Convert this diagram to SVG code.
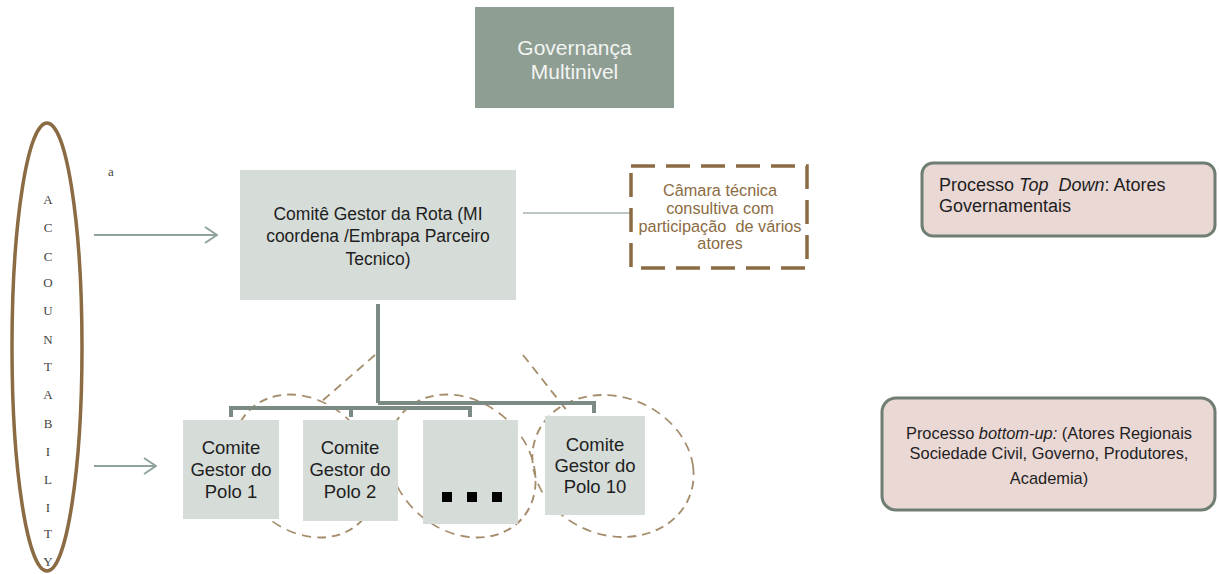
<svg xmlns="http://www.w3.org/2000/svg" width="1219" height="574" viewBox="0 0 1219 574">
<defs>
<style>
.sans{font-family:"Liberation Sans",Arial,sans-serif}
.serif{font-family:"Liberation Serif","Times New Roman",serif}
.gbox{fill:#d6dcd8}
.ptxt{font-family:"Liberation Sans",Arial,sans-serif;font-size:18.5px;fill:#1e1e1e;text-anchor:middle}
.letter{font-family:"Liberation Serif","Times New Roman",serif;font-size:13px;fill:#444;text-anchor:middle}
.dashell{fill:none;stroke:#a58d6c;stroke-width:1.8;stroke-dasharray:9 6}
.tree{fill:none;stroke:#7b8a83;stroke-width:4}
.arrow{fill:none;stroke:#8fa39a;stroke-width:2}
.proc{fill:#ead8d5;stroke:#6f7d73;stroke-width:3}
</style>
<marker id="chev" viewBox="0 0 14 18" refX="13" refY="9" markerWidth="14" markerHeight="18" markerUnits="userSpaceOnUse" orient="auto">
<path d="M1,1 L13,9 L1,17" fill="none" stroke="#8fa39a" stroke-width="2"/>
</marker>
</defs>
<rect width="1219" height="574" fill="#ffffff"/>

<g id="governanca">
<rect x="475" y="7" width="199" height="101" fill="#8f9e93"/>
<text class="sans" x="574.5" y="55" font-size="21" fill="#f2f4f1" text-anchor="middle">Governança</text>
<text class="sans" x="574.5" y="79" font-size="21" fill="#f2f4f1" text-anchor="middle">Multinivel</text>
</g>

<g id="accountability">
<ellipse cx="47" cy="347" rx="35" ry="224" fill="none" stroke="#8b6b43" stroke-width="3.5"/>
<text class="letter" x="48" y="204">A</text>
<text class="letter" x="48" y="232">C</text>
<text class="letter" x="48" y="261">C</text>
<text class="letter" x="48" y="287">O</text>
<text class="letter" x="48" y="315">U</text>
<text class="letter" x="48" y="344">N</text>
<text class="letter" x="48" y="371">T</text>
<text class="letter" x="48" y="399">A</text>
<text class="letter" x="48" y="428">B</text>
<text class="letter" x="48" y="456">I</text>
<text class="letter" x="48" y="484">L</text>
<text class="letter" x="48" y="512">I</text>
<text class="letter" x="48" y="538">T</text>
<text class="letter" x="48" y="566">Y</text>
</g>

<g id="label-a">
<text class="serif" x="111" y="176" font-size="13" fill="#444" text-anchor="middle">a</text>
</g>

<g id="dashed-shapes">
<ellipse class="dashell" transform="translate(305 466) skewX(12)" rx="70" ry="71.5"/>
<ellipse class="dashell" transform="translate(462 466) skewX(12)" rx="72" ry="71.5"/>
<ellipse class="dashell" transform="translate(613 466) skewX(8)" rx="80" ry="71"/>
<line class="dashell" x1="375" y1="355" x2="321" y2="402"/>
<line class="dashell" x1="523" y1="355" x2="568" y2="412"/>
</g>

<g id="connectors">
<line class="arrow" x1="94" y1="235" x2="217" y2="235" marker-end="url(#chev)"/>
<line class="arrow" x1="94" y1="466" x2="156" y2="466" marker-end="url(#chev)"/>
<line x1="523" y1="213" x2="630" y2="213" stroke="#a5b4b0" stroke-width="1.5"/>
<path class="tree" d="M378,304 V403 M378,403 H594 V413 M231,417 V408 H470 V417 M351,408 V417"/>
</g>

<g id="comite-gestor">
<rect class="gbox" x="240" y="170" width="276" height="130"/>
<text class="sans" x="378" y="220" font-size="17.5" fill="#1e1e1e" text-anchor="middle">Comitê Gestor da Rota (MI</text>
<text class="sans" x="378" y="242" font-size="17.5" fill="#1e1e1e" text-anchor="middle">coordena /Embrapa Parceiro</text>
<text class="sans" x="378" y="265" font-size="17.5" fill="#1e1e1e" text-anchor="middle">Tecnico)</text>
</g>

<g id="camara-tecnica">
<rect x="631" y="166" width="176" height="102" fill="#ffffff" stroke="#8b6b43" stroke-width="3.5" stroke-dasharray="24 11"/>
<text class="sans" x="720" y="196" font-size="16.3" fill="#8b6b43" text-anchor="middle">Câmara técnica</text>
<text class="sans" x="720" y="214" font-size="16.3" fill="#8b6b43" text-anchor="middle">consultiva com</text>
<text class="sans" x="720" y="232" font-size="16.3" fill="#8b6b43" text-anchor="middle" xml:space="preserve">participação  de vários</text>
<text class="sans" x="720" y="249" font-size="16.3" fill="#8b6b43" text-anchor="middle">atores</text>
</g>

<g id="polo-1">
<rect class="gbox" x="183" y="420" width="96" height="99"/>
<text class="ptxt" x="231" y="454">Comite</text>
<text class="ptxt" x="231" y="476">Gestor do</text>
<text class="ptxt" x="231" y="498">Polo 1</text>
</g>

<g id="polo-2">
<rect class="gbox" x="303" y="420" width="95" height="101"/>
<text class="ptxt" x="350" y="454">Comite</text>
<text class="ptxt" x="350" y="476">Gestor do</text>
<text class="ptxt" x="350" y="498">Polo 2</text>
</g>

<g id="polo-etc">
<rect class="gbox" x="423" y="420" width="95" height="104"/>
<rect x="442" y="492" width="10" height="10" fill="#000"/>
<rect x="467" y="492" width="10" height="10" fill="#000"/>
<rect x="492" y="492" width="10" height="10" fill="#000"/>
</g>

<g id="polo-10">
<rect class="gbox" x="545" y="416" width="100" height="99"/>
<text class="ptxt" x="595" y="451">Comite</text>
<text class="ptxt" x="595" y="472">Gestor do</text>
<text class="ptxt" x="595" y="493">Polo 10</text>
</g>

<g id="top-down">
<rect class="proc" x="922" y="163" width="293" height="73" rx="11"/>
<text class="sans" x="939" y="191" font-size="18" fill="#1e1e1e">Processo <tspan font-style="italic" xml:space="preserve">Top  Down</tspan>: Atores</text>
<text class="sans" x="939" y="212" font-size="18" fill="#1e1e1e">Governamentais</text>
</g>

<g id="bottom-up">
<rect class="proc" x="882" y="398" width="333" height="112" rx="14"/>
<text class="sans" x="1049" y="439" font-size="16.4" fill="#1e1e1e" text-anchor="middle">Processo <tspan font-style="italic">bottom-up:</tspan> (Atores Regionais</text>
<text class="sans" x="1049" y="459" font-size="16.4" fill="#1e1e1e" text-anchor="middle">Sociedade Civil, Governo, Produtores,</text>
<text class="sans" x="1049" y="484" font-size="16.4" fill="#1e1e1e" text-anchor="middle">Academia)</text>
</g>
</svg>
